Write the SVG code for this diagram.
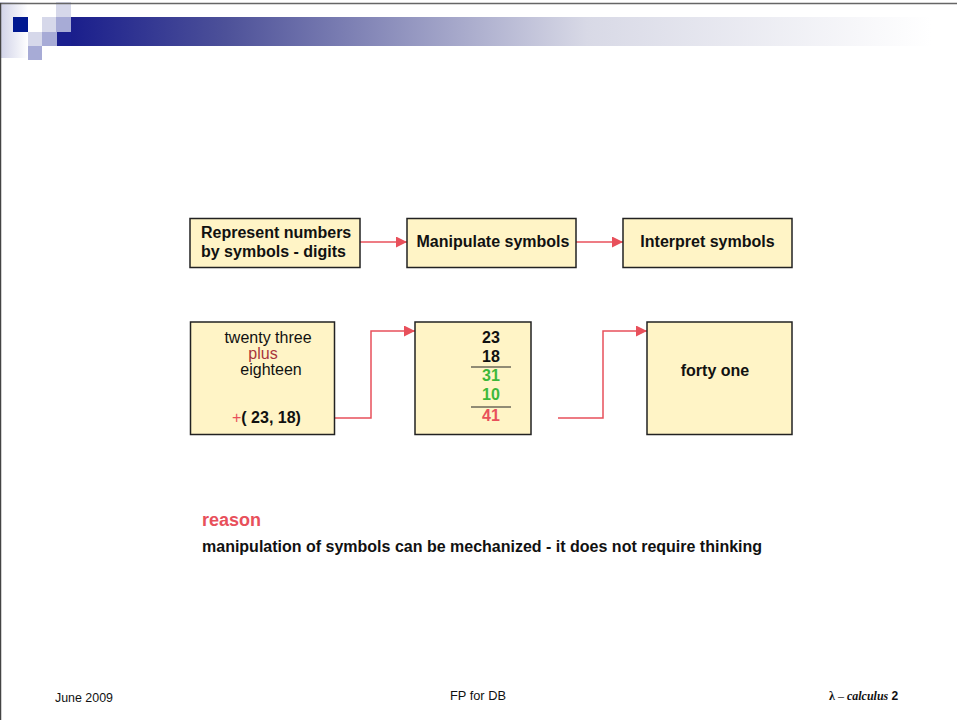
<svg xmlns="http://www.w3.org/2000/svg" width="957" height="720" viewBox="0 0 957 720">
<defs>
<linearGradient id="bar" x1="0" y1="0" x2="1" y2="0">
<stop offset="0" stop-color="#1a1e8c"/>
<stop offset="0.18" stop-color="#4d5199"/>
<stop offset="0.6" stop-color="#d8d9e6"/>
<stop offset="1" stop-color="#ffffff"/>
</linearGradient>
<linearGradient id="lg" x1="0" y1="0" x2="1" y2="0">
<stop offset="0" stop-color="#d0d2e8"/>
<stop offset="1" stop-color="#ffffff"/>
</linearGradient>
<marker id="ah" viewBox="0 0 10 10" refX="10" refY="5" markerWidth="11" markerHeight="11" markerUnits="userSpaceOnUse" orient="auto">
<path d="M0,0 L10,5 L0,10 z" fill="#e8505b"/>
</marker>
<style>
.box{fill:#fff4c6;stroke:#222;stroke-width:1.5}
.b{font-family:"Liberation Sans",Arial,sans-serif;font-weight:bold;font-size:16px;fill:#111}
.n{font-family:"Liberation Sans",Arial,sans-serif;font-size:16px;fill:#111}
.nb{font-family:"Liberation Sans",Arial,sans-serif;font-weight:bold;font-size:16px;fill:#111}
.g{fill:#3db83a}
.r{fill:#e8505b}
.con{fill:none;stroke:#e8505b;stroke-width:1.5}
.ft{font-family:"Liberation Sans",Arial,sans-serif;font-size:13px;fill:#111}
</style>
</defs>
<rect width="957" height="720" fill="#ffffff"/>
<g id="header">
<rect x="0" y="2" width="28" height="56" fill="url(#lg)"/>
<rect x="71" y="17" width="860" height="29" fill="url(#bar)"/>
<rect x="57" y="32" width="14" height="14" fill="#1a1f8f"/>
<rect x="13" y="17" width="15" height="15" fill="#001890"/>
<rect x="42" y="17" width="14" height="15" fill="#d6d8ea"/>
<rect x="56" y="2" width="15" height="15" fill="#d6d8ea"/>
<rect x="56" y="17" width="15" height="15" fill="#a7abd6"/>
<rect x="28" y="32" width="14" height="14" fill="#d6d8ea"/>
<rect x="42" y="32" width="15" height="14" fill="#a7abd6"/>
<rect x="28" y="46" width="14" height="14" fill="#a7abd6"/>
<line x1="0" y1="3.5" x2="957" y2="3.5" stroke="#666" stroke-width="1.5"/>
<line x1="0.5" y1="3" x2="0.5" y2="720" stroke="#444" stroke-width="1.5"/>
</g>
<g id="connectors">
<line class="con" x1="360" y1="242" x2="407" y2="242" marker-end="url(#ah)"/>
<line class="con" x1="576" y1="242" x2="623" y2="242" marker-end="url(#ah)"/>
<polyline class="con" points="328,418 371,418 371,331 415,331" marker-end="url(#ah)"/>
<polyline class="con" points="558,418 603,418 603,331 647,331" marker-end="url(#ah)"/>
</g>
<g id="n1">
<rect class="box" x="190" y="218.5" width="170" height="49"/>
<text class="b" x="201" y="238">Represent numbers</text>
<text class="b" x="201" y="257">by symbols - digits</text>
</g>
<g id="n2">
<rect class="box" x="407" y="218.5" width="169" height="49"/>
<text class="b" x="493" y="247" text-anchor="middle">Manipulate symbols</text>
</g>
<g id="n3">
<rect class="box" x="623" y="218.5" width="169" height="49"/>
<text class="b" x="707.5" y="247" text-anchor="middle">Interpret symbols</text>
</g>
<g id="n4">
<rect class="box" x="190.5" y="322" width="144" height="112.5"/>
<text class="n" x="268" y="343" text-anchor="middle">twenty three</text>
<text class="n" x="263" y="359" text-anchor="middle" style="fill:#a8363c">plus</text>
<text class="n" x="271" y="375" text-anchor="middle">eighteen</text>
<text class="nb" x="232" y="423"><tspan class="r" font-weight="normal">+</tspan>( 23, 18)</text>
</g>
<g id="n5">
<rect class="box" x="415" y="322" width="116" height="112.5"/>
<text class="nb" x="491" y="343" text-anchor="middle">23</text>
<text class="nb" x="491" y="362" text-anchor="middle">18</text>
<line x1="471" y1="367" x2="511" y2="367" stroke="#222" stroke-width="1"/>
<text class="nb g" x="491" y="381" text-anchor="middle">31</text>
<text class="nb g" x="491" y="400" text-anchor="middle">10</text>
<line x1="471" y1="407" x2="511" y2="407" stroke="#222" stroke-width="1"/>
<text class="nb r" x="491" y="421" text-anchor="middle">41</text>
</g>
<g id="n6">
<rect class="box" x="647" y="322" width="145" height="112.5"/>
<text class="nb" x="715" y="376" text-anchor="middle">forty one</text>
</g>
<g id="texts">
<text class="b r" x="202" y="526" style="font-size:18px">reason</text>
<text class="nb" x="202" y="552">manipulation of symbols can be mechanized - it does not require thinking</text>
</g>
<g id="footer">
<text class="ft" x="55" y="702" textLength="58" lengthAdjust="spacingAndGlyphs">June 2009</text>
<text class="ft" x="450" y="700" textLength="56" lengthAdjust="spacingAndGlyphs">FP for DB</text>
<text x="829" y="700" font-size="12px" fill="#111"><tspan font-family="Liberation Serif,serif" font-weight="bold">λ</tspan><tspan font-family="Liberation Serif,serif"> – </tspan><tspan font-family="Liberation Serif,serif" font-style="italic" font-weight="bold">calculus</tspan><tspan font-family="Liberation Sans,Arial,sans-serif" font-weight="bold"> 2</tspan></text>
</g>
</svg>
